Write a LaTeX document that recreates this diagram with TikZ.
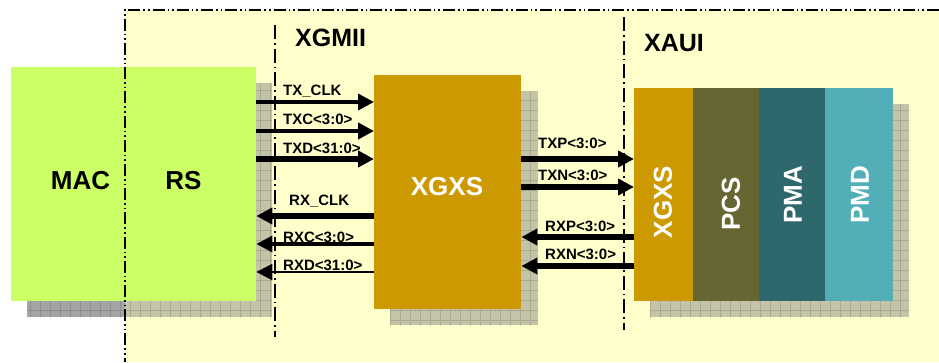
\documentclass[tikz,border=0pt]{standalone}
\usepackage{fontspec}
\setmainfont{Liberation Sans}
\usetikzlibrary{arrows.meta}
\definecolor{bgyellow}{HTML}{FFFFCC}
\definecolor{macgreen}{HTML}{CCFF66}
\definecolor{gold}{HTML}{CC9900}
\definecolor{pcscol}{HTML}{666633}
\definecolor{pmacol}{HTML}{2E686C}
\definecolor{pmdcol}{HTML}{52AFB8}
\definecolor{shadin}{HTML}{C4C4A9}
\definecolor{shadout}{HTML}{A4A4A4}
\begin{document}
\begin{tikzpicture}[x=1pt,y=-1pt,
  blk/.style={draw=none, inner sep=0pt, anchor=north west},
  bigtxt/.style={inner sep=0pt, font=\fontsize{26}{30}\selectfont\bfseries},
  wtxt/.style={bigtxt, text=white},
  vtxt/.style={bigtxt, text=white, rotate=90},
  lbl/.style={inner sep=0pt, anchor=west, font=\fontsize{15}{18}\selectfont\bfseries},
  sig/.style={draw=black, -{Triangle[length=16pt,width=16pt]}},
  gridl/.style={draw=black, draw opacity=0.13, line width=0.8pt},
  frameline/.style={line width=1.8pt, dash pattern=on 12pt off 3pt on 1.6pt off 3pt on 1.6pt off 3pt},
  sepline/.style={line width=1.5pt, dash pattern=on 14pt off 4pt on 1.5pt off 4pt}]
\useasboundingbox (0,0) rectangle (939,362);
\fill[white] (0,0) rectangle (939,362);
\fill[bgyellow] (125,10) rectangle (939,362);
% shadows
\fill[shadin] (27,83) rectangle (272,317);
\fill[shadout] (27,83) rectangle (125,317);
\begin{scope}
  \clip (27,83) rectangle (272,317);
  \draw[gridl, step=10pt] (0,0) grid (300,330);
\end{scope}
\fill[shadin] (390,91) rectangle (538,325);
\begin{scope}
  \clip (390,91) rectangle (538,325);
  \draw[gridl, step=10pt] (380,80) grid (550,330);
\end{scope}
\fill[shadin] (650,104) rectangle (909,317);
\begin{scope}
  \clip (650,104) rectangle (909,317);
  \draw[gridl, step=10pt] (640,100) grid (920,330);
\end{scope}
% boxes
\node[blk, fill=macgreen, minimum width=245pt, minimum height=234pt] (rs) at (11,67) {};
\node[blk, fill=gold, minimum width=147pt, minimum height=234pt] (xgxs) at (374,75) {};
\node[blk, fill=gold, minimum width=59pt, minimum height=213pt] (xg2) at (634,88) {};
\node[blk, fill=pcscol, minimum width=66pt, minimum height=213pt] (pcs) at (693,88) {};
\node[blk, fill=pmacol, minimum width=66pt, minimum height=213pt] (pma) at (759,88) {};
\node[blk, fill=pmdcol, minimum width=68pt, minimum height=213pt] (pmd) at (825,88) {};
% texts in boxes
\node[bigtxt] (mac) at (80.5,181) {MAC};
\node[bigtxt] (rst) at (183.5,181) {RS};
\node[wtxt] (xgxst) at (447,187) {XGXS};
\node[vtxt] (xg2t) at (663,202) {XGXS};
\node[vtxt] (pcst) at (731,204) {PCS};
\node[vtxt] (pmat) at (793,195) {PMA};
\node[vtxt] (pmdt) at (860,195) {PMD};
\node[bigtxt, anchor=west, font=\fontsize{25}{30}\selectfont\bfseries] (xgmii) at (295,38) {XGMII};
\node[bigtxt, anchor=west, font=\fontsize{25}{30}\selectfont\bfseries] (xaui) at (644,43) {XAUI};
% frame and separators
\draw[frameline] (939,10) -- (125,10) -- (125,362);
\draw[sepline] (275,25) -- (275,337);
\draw[sepline] (624,17) -- (624,330);
% left signals
\draw[sig, line width=3.5pt] (rs.east |- 0,102) -- (xgxs.west |- 0,102);
\draw[sig, line width=4.5pt] (rs.east |- 0,131) -- (xgxs.west |- 0,131);
\draw[sig, line width=6pt] (rs.east |- 0,159) -- (xgxs.west |- 0,159);
\draw[sig, line width=5.5pt] (xgxs.west |- 0,216) -- (rs.east |- 0,216);
\draw[sig, line width=3.5pt] (xgxs.west |- 0,244) -- (rs.east |- 0,244);
\draw[sig, line width=2.5pt] (xgxs.west |- 0,272) -- (rs.east |- 0,272);
\node[lbl] (ltxclk) at (283,91) {TX\_CLK};
\node[lbl] (ltxc) at (283,119) {TXC<3:0>};
\node[lbl] (ltxd) at (283,148) {TXD<31:0>};
\node[lbl] (lrxclk) at (289,201) {RX\_CLK};
\node[lbl] (lrxc) at (283,237) {RXC<3:0>};
\node[lbl] (lrxd) at (283,265) {RXD<31:0>};
% right signals
\draw[sig, line width=6pt] (xgxs.east |- 0,159) -- (xg2.west |- 0,159);
\draw[sig, line width=6pt] (xgxs.east |- 0,187) -- (xg2.west |- 0,187);
\draw[sig, line width=6pt] (xg2.west |- 0,237) -- (xgxs.east |- 0,237);
\draw[sig, line width=6pt] (xg2.west |- 0,266) -- (xgxs.east |- 0,266);
\node[lbl] (ltxp) at (538,143) {TXP<3:0>};
\node[lbl] (ltxn) at (538,175) {TXN<3:0>};
\node[lbl] (lrxp) at (545,226) {RXP<3:0>};
\node[lbl] (lrxn) at (545,254) {RXN<3:0>};
\end{tikzpicture}
\end{document}
